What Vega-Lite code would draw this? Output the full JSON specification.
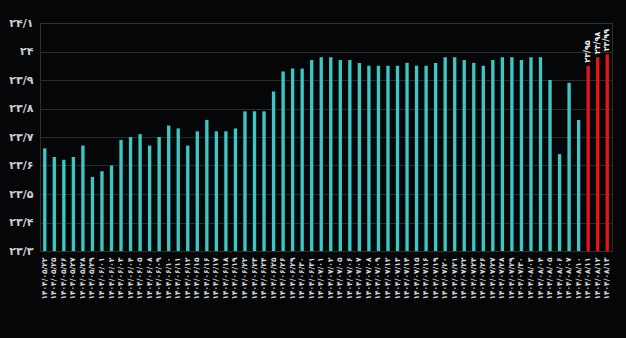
{
  "$schema": "https://vega.github.io/schema/vega-lite/v6.json",
  "width": 572,
  "height": 228,
  "autosize": {"type": "none"},
  "padding": {"left": 40, "top": 23, "right": 14, "bottom": 87},
  "background": "#050607",
  "config": {
    "view": {"stroke": "#2e2e2e", "strokeWidth": 1},
    "font": "DejaVu Sans"
  },
  "data": {
    "values": [
      {"date": "۱۴۰۴/۰۵/۲۲", "v": 23.66, "t": "a"},
      {"date": "۱۴۰۴/۰۵/۲۵", "v": 23.63, "t": "a"},
      {"date": "۱۴۰۴/۰۵/۲۶", "v": 23.62, "t": "a"},
      {"date": "۱۴۰۴/۰۵/۲۷", "v": 23.63, "t": "a"},
      {"date": "۱۴۰۴/۰۵/۲۸", "v": 23.67, "t": "a"},
      {"date": "۱۴۰۴/۰۵/۲۹", "v": 23.56, "t": "a"},
      {"date": "۱۴۰۴/۰۶/۰۱", "v": 23.58, "t": "a"},
      {"date": "۱۴۰۴/۰۶/۰۲", "v": 23.60, "t": "a"},
      {"date": "۱۴۰۴/۰۶/۰۳", "v": 23.69, "t": "a"},
      {"date": "۱۴۰۴/۰۶/۰۴", "v": 23.70, "t": "a"},
      {"date": "۱۴۰۴/۰۶/۰۵", "v": 23.71, "t": "a"},
      {"date": "۱۴۰۴/۰۶/۰۸", "v": 23.67, "t": "a"},
      {"date": "۱۴۰۴/۰۶/۰۹", "v": 23.70, "t": "a"},
      {"date": "۱۴۰۴/۰۶/۱۰", "v": 23.74, "t": "a"},
      {"date": "۱۴۰۴/۰۶/۱۱", "v": 23.73, "t": "a"},
      {"date": "۱۴۰۴/۰۶/۱۲", "v": 23.67, "t": "a"},
      {"date": "۱۴۰۴/۰۶/۱۵", "v": 23.72, "t": "a"},
      {"date": "۱۴۰۴/۰۶/۱۶", "v": 23.76, "t": "a"},
      {"date": "۱۴۰۴/۰۶/۱۷", "v": 23.72, "t": "a"},
      {"date": "۱۴۰۴/۰۶/۱۸", "v": 23.72, "t": "a"},
      {"date": "۱۴۰۴/۰۶/۱۹", "v": 23.73, "t": "a"},
      {"date": "۱۴۰۴/۰۶/۲۲", "v": 23.79, "t": "a"},
      {"date": "۱۴۰۴/۰۶/۲۳", "v": 23.79, "t": "a"},
      {"date": "۱۴۰۴/۰۶/۲۴", "v": 23.79, "t": "a"},
      {"date": "۱۴۰۴/۰۶/۲۵", "v": 23.86, "t": "a"},
      {"date": "۱۴۰۴/۰۶/۲۶", "v": 23.93, "t": "a"},
      {"date": "۱۴۰۴/۰۶/۲۹", "v": 23.94, "t": "a"},
      {"date": "۱۴۰۴/۰۶/۳۰", "v": 23.94, "t": "a"},
      {"date": "۱۴۰۴/۰۶/۳۱", "v": 23.97, "t": "a"},
      {"date": "۱۴۰۴/۰۷/۰۱", "v": 23.98, "t": "a"},
      {"date": "۱۴۰۴/۰۷/۰۲", "v": 23.98, "t": "a"},
      {"date": "۱۴۰۴/۰۷/۰۵", "v": 23.97, "t": "a"},
      {"date": "۱۴۰۴/۰۷/۰۶", "v": 23.97, "t": "a"},
      {"date": "۱۴۰۴/۰۷/۰۷", "v": 23.96, "t": "a"},
      {"date": "۱۴۰۴/۰۷/۰۸", "v": 23.95, "t": "a"},
      {"date": "۱۴۰۴/۰۷/۰۹", "v": 23.95, "t": "a"},
      {"date": "۱۴۰۴/۰۷/۱۲", "v": 23.95, "t": "a"},
      {"date": "۱۴۰۴/۰۷/۱۳", "v": 23.95, "t": "a"},
      {"date": "۱۴۰۴/۰۷/۱۴", "v": 23.96, "t": "a"},
      {"date": "۱۴۰۴/۰۷/۱۵", "v": 23.95, "t": "a"},
      {"date": "۱۴۰۴/۰۷/۱۶", "v": 23.95, "t": "a"},
      {"date": "۱۴۰۴/۰۷/۱۹", "v": 23.96, "t": "a"},
      {"date": "۱۴۰۴/۰۷/۲۰", "v": 23.98, "t": "a"},
      {"date": "۱۴۰۴/۰۷/۲۱", "v": 23.98, "t": "a"},
      {"date": "۱۴۰۴/۰۷/۲۲", "v": 23.97, "t": "a"},
      {"date": "۱۴۰۴/۰۷/۲۳", "v": 23.96, "t": "a"},
      {"date": "۱۴۰۴/۰۷/۲۶", "v": 23.95, "t": "a"},
      {"date": "۱۴۰۴/۰۷/۲۷", "v": 23.97, "t": "a"},
      {"date": "۱۴۰۴/۰۷/۲۸", "v": 23.98, "t": "a"},
      {"date": "۱۴۰۴/۰۷/۲۹", "v": 23.98, "t": "a"},
      {"date": "۱۴۰۴/۰۷/۳۰", "v": 23.97, "t": "a"},
      {"date": "۱۴۰۴/۰۸/۰۳", "v": 23.98, "t": "a"},
      {"date": "۱۴۰۴/۰۸/۰۴", "v": 23.98, "t": "a"},
      {"date": "۱۴۰۴/۰۸/۰۵", "v": 23.90, "t": "a"},
      {"date": "۱۴۰۴/۰۸/۰۶", "v": 23.64, "t": "a"},
      {"date": "۱۴۰۴/۰۸/۰۷", "v": 23.89, "t": "a"},
      {"date": "۱۴۰۴/۰۸/۱۰", "v": 23.76, "t": "a"},
      {"date": "۱۴۰۴/۰۸/۱۱", "v": 23.95, "t": "b", "label": "۲۳/۹۵"},
      {"date": "۱۴۰۴/۰۸/۱۲", "v": 23.98, "t": "b", "label": "۲۳/۹۸"},
      {"date": "۱۴۰۴/۰۸/۱۳", "v": 23.99, "t": "b", "label": "۲۳/۹۹"}
    ]
  },
  "encoding": {
    "x": {
      "field": "date",
      "type": "ordinal",
      "sort": null,
      "scale": {"paddingInner": 0.65, "paddingOuter": 0.325},
      "axis": {
        "title": null,
        "labelAngle": 270,
        "labelAlign": "right",
        "labelBaseline": "middle",
        "labelFontSize": 7.5,
        "labelFontWeight": "bold",
        "labelColor": "#d8d8d8",
        "labelPadding": 6,
        "ticks": false,
        "domain": false
      }
    },
    "y": {
      "field": "v",
      "type": "quantitative",
      "scale": {"domain": [23.3, 24.1], "zero": false, "nice": false},
      "axis": {
        "title": null,
        "values": [23.3, 23.4, 23.5, 23.6, 23.7, 23.8, 23.9, 24.0, 24.1],
        "labelExpr": "{'233':'۲۳/۳','234':'۲۳/۴','235':'۲۳/۵','236':'۲۳/۶','237':'۲۳/۷','238':'۲۳/۸','239':'۲۳/۹','240':'۲۴','241':'۲۴/۱'}[toString(round(datum.value*10))]",
        "labelFontSize": 11,
        "labelFontWeight": "bold",
        "labelColor": "#cfcfcf",
        "labelPadding": 7,
        "ticks": false,
        "domain": false,
        "gridColor": "#333333",
        "gridWidth": 0.8
      }
    }
  },
  "layer": [
    {
      "mark": {"type": "bar"},
      "encoding": {
        "y2": {"datum": 23.3},
        "color": {
          "field": "t",
          "type": "nominal",
          "scale": {"domain": ["a", "b"], "range": ["#3ec6c4", "#e8141b"]},
          "legend": null
        }
      }
    },
    {
      "transform": [{"filter": "isValid(datum.label)"}],
      "mark": {
        "type": "text",
        "angle": 270,
        "align": "left",
        "baseline": "middle",
        "dx": 3,
        "fontSize": 8,
        "fontWeight": "bold",
        "color": "#f0f0f0"
      },
      "encoding": {"text": {"field": "label"}}
    }
  ]
}
